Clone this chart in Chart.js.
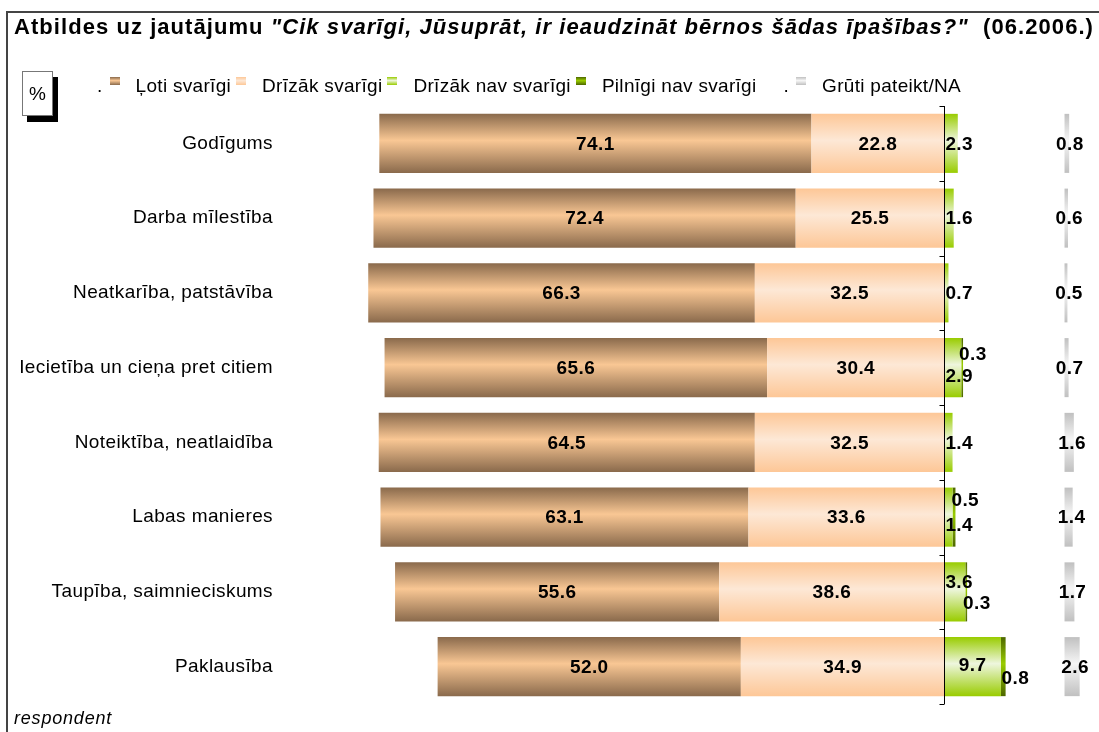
<!DOCTYPE html>
<html>
<head>
<meta charset="utf-8">
<script src="https://cdn.jsdelivr.net/npm/chart.js@4.4.1/dist/chart.umd.min.js"></script>
<style>
  body { margin: 0; background: #fff; font-family: "Liberation Sans", Arial, sans-serif; }
  #wrap { position: relative; width: 1099px; height: 732px; overflow: hidden; }
  #c { position: absolute; left: 0; top: 0; }
  .frameTop { position: absolute; left: 6px; top: 11px; width: 1093px; height: 2px; background: #444; }
  .frameLeft { position: absolute; left: 6px; top: 11px; width: 2px; height: 721px; background: #444; }
  #title { position: absolute; left: 14px; top: 16px; font-size: 22px; line-height: 22px; font-weight: bold; white-space: nowrap; color: #000; }
  #legend { position: absolute; left: 97px; top: 76px; display: flex; align-items: flex-start; font-size: 19px; line-height: 19px; letter-spacing: 0.3px; color: #000; white-space: nowrap; }
  #legend .dot { margin-right: 7px; }
  #legend .mk { width: 10px; height: 8px; margin-top: 1px; }
  #legend .tx { margin-left: 16px; margin-right: 5px; }
  #pct { position: absolute; left: 22px; top: 71px; width: 29px; height: 43px; background: #fff; border: 1px solid #777; box-shadow: 5px 6px 0 #000; font-size: 19px; line-height: 43px; text-align: center; }
  #resp { position: absolute; left: 14px; top: 709px; font-size: 18px; line-height: 18px; font-style: italic; letter-spacing: 0.8px; }
</style>
</head>
<body>
<div id="wrap">
  <canvas id="c" width="1099" height="732"></canvas>
  <div class="frameTop"></div>
  <div class="frameLeft"></div>
  <div id="title">Atbildes uz jautājumu <i>"Cik svarīgi, Jūsuprāt, ir ieaudzināt bērnos šādas īpašības?"</i>&nbsp; (06.2006.)</div>
  <div id="legend"></div>
  <div id="pct">%</div>
  <div id="resp">respondent</div>
</div>
<script>
// categories and values (%)
const categories = [
  "Godīgums",
  "Darba mīlestība",
  "Neatkarība, patstāvība",
  "Iecietība un cieņa pret citiem",
  "Noteiktība, neatlaidība",
  "Labas manieres",
  "Taupība, saimnieciskums",
  "Paklausība"
];
const lotiSvarigi = [74.1, 72.4, 66.3, 65.6, 64.5, 63.1, 55.6, 52.0];
const drizakSvarigi = [22.8, 25.5, 32.5, 30.4, 32.5, 33.6, 38.6, 34.9];
const drizakNavSvarigi = [2.3, 1.6, 0.7, 2.9, 1.4, 1.4, 3.6, 9.7];
const pilnigiNavSvarigi = [0, 0, 0, 0.3, 0, 0.5, 0.3, 0.8];
const grutiPateikt = [0.8, 0.6, 0.5, 0.7, 1.6, 1.4, 1.7, 2.6];

const seriesNames = ["Ļoti svarīgi", "Drīzāk svarīgi", "Drīzāk nav svarīgi", "Pilnīgi nav svarīgi", "Grūti pateikt/NA"];

// layout / style
const NA_START = 20.6;      // where the NA column starts on the value axis
const BAR_PCT = 0.79;
const colors = {
  loti: ["#8a6a4c", "#f9c794"],
  drizak: ["#fdc797", "#fde8d6"],
  dnav: ["#99cc00", "#eef6de"],
  pnav: ["#4d6600", "#99cc00"],
  na: ["#c0c0c0", "#f6f6f6"]
};
// vertical nudges of the small green labels [Drīzāk nav, Pilnīgi nav]
const navShift = [[0, 0], [0, 0], [0, 0], [8, -14], [0, 0], [8, -17], [-10, 11], [-2, 11]];

function grad(pair) {
  return (ctx) => {
    const chart = ctx.chart;
    const y = chart.scales.y;
    if (!y || ctx.dataIndex === undefined) return pair[0];
    const c = y.getPixelForValue(ctx.dataIndex);
    const half = (y.height / categories.length) * BAR_PCT / 2;
    if (!isFinite(c) || !isFinite(half) || half <= 0) return pair[0];
    const g = chart.ctx.createLinearGradient(0, c - half, 0, c + half);
    g.addColorStop(0, pair[0]);
    g.addColorStop(0.45, pair[1]);
    g.addColorStop(1, pair[0]);
    return g;
  };
}

// legend (html)
const legendEl = document.getElementById("legend");
const legendPairs = [colors.loti, colors.drizak, colors.dnav, colors.pnav, colors.na];
seriesNames.forEach((name, i) => {
  if (i === 0 || i === 4) {
    const d = document.createElement("span");
    d.className = "dot";
    d.textContent = ".";
    if (i === 4) d.style.marginLeft = "22px";
    legendEl.appendChild(d);
  }
  const mk = document.createElement("span");
  mk.className = "mk";
  const p = legendPairs[i];
  mk.style.background = `linear-gradient(${p[0]}, ${p[1]} 45%, ${p[0]})`;
  legendEl.appendChild(mk);
  const tx = document.createElement("span");
  tx.className = "tx";
  tx.textContent = name;
  legendEl.appendChild(tx);
});

// stretch title to the frame width like the original
const titleEl = document.getElementById("title");
const tw = titleEl.getBoundingClientRect().width;
const nChars = titleEl.textContent.length;
titleEl.style.letterSpacing = ((1080 - tw) / nChars) + "px";

const barLabels = {
  id: "barLabels",
  beforeDraw(chart) {
    chart.ctx.letterSpacing = "0.4px";
  },
  afterDatasetsDraw(chart) {
    const c = chart.ctx;
    const x0 = chart.scales.x.getPixelForValue(0);
    c.save();
    c.font = "bold 19px 'Liberation Sans', Arial, sans-serif";
    c.fillStyle = "#000";
    c.textAlign = "center";
    c.textBaseline = "middle";
    chart.data.datasets.forEach((ds, di) => {
      const meta = chart.getDatasetMeta(di);
      meta.data.forEach((bar, i) => {
        const v = ds.values[i];
        if (!v) return;
        const txt = v.toFixed(1);
        const w = c.measureText(txt).width;
        const left = Math.min(bar.x, bar.base);
        const right = Math.max(bar.x, bar.base);
        let x = (left + right) / 2;
        let y = bar.y;
        if (ds.kind === "dnav") {
          x = Math.max(x, x0 + w / 2 + 1);
          y += navShift[i][0];
        } else if (ds.kind === "pnav") {
          x = right + w / 2 - 4;
          y += navShift[i][1];
        } else if (ds.kind === "na") {
          x += 3;
        }
        c.fillText(txt, x, y + 1);
      });
    });
    // vertical axis at 0 with tick marks between categories
    const ys = chart.scales.y;
    c.strokeStyle = "#000";
    c.lineWidth = 1;
    c.beginPath();
    const ax = Math.round(x0) + 0.5;
    c.moveTo(ax, ys.top);
    c.lineTo(ax, ys.bottom);
    const step = ys.height / categories.length;
    for (let k = 0; k <= categories.length; k++) {
      const ty = Math.round(ys.top + k * step) + 0.5;
      c.moveTo(ax - 5, ty);
      c.lineTo(ax, ty);
    }
    c.stroke();
    c.restore();
  }
};

Chart.defaults.font.family = "'Liberation Sans', Arial, sans-serif";

new Chart(document.getElementById("c"), {
  type: "bar",
  data: {
    labels: categories,
    datasets: [
      {
        label: seriesNames[1],
        kind: "drizak",
        values: drizakSvarigi,
        data: drizakSvarigi.map(v => -v),
        backgroundColor: grad(colors.drizak)
      },
      {
        label: seriesNames[0],
        kind: "loti",
        values: lotiSvarigi,
        data: lotiSvarigi.map(v => -v),
        backgroundColor: grad(colors.loti)
      },
      {
        label: seriesNames[2],
        kind: "dnav",
        values: drizakNavSvarigi,
        data: drizakNavSvarigi,
        backgroundColor: grad(colors.dnav)
      },
      {
        label: seriesNames[3],
        kind: "pnav",
        values: pilnigiNavSvarigi,
        data: pilnigiNavSvarigi,
        backgroundColor: grad(colors.pnav)
      },
      {
        label: seriesNames[4],
        kind: "na",
        values: grutiPateikt,
        data: grutiPateikt.map(v => [NA_START, NA_START + v]),
        backgroundColor: grad(colors.na),
        stack: "na",
        grouped: false
      }
    ]
  },
  options: {
    indexAxis: "y",
    responsive: false,
    animation: false,
    devicePixelRatio: 1,
    datasets: {
      bar: { barPercentage: BAR_PCT, categoryPercentage: 1, borderWidth: 0 }
    },
    layout: { padding: { left: 0, right: 3, top: 106, bottom: 28 } },
    scales: {
      x: {
        stacked: true,
        min: -110.5,
        max: 26,
        display: false
      },
      y: {
        stacked: true,
        grid: { display: false, drawTicks: false },
        border: { display: false },
        ticks: { padding: 27, color: "#000", font: { size: 19 } },
        afterFit(scale) {
          scale.width = 300;
          scale.paddingTop = 0;
          scale.paddingBottom = 0;
        }
      }
    },
    plugins: {
      legend: { display: false },
      tooltip: { enabled: false }
    }
  },
  plugins: [barLabels]
});
</script>
</body>
</html>
